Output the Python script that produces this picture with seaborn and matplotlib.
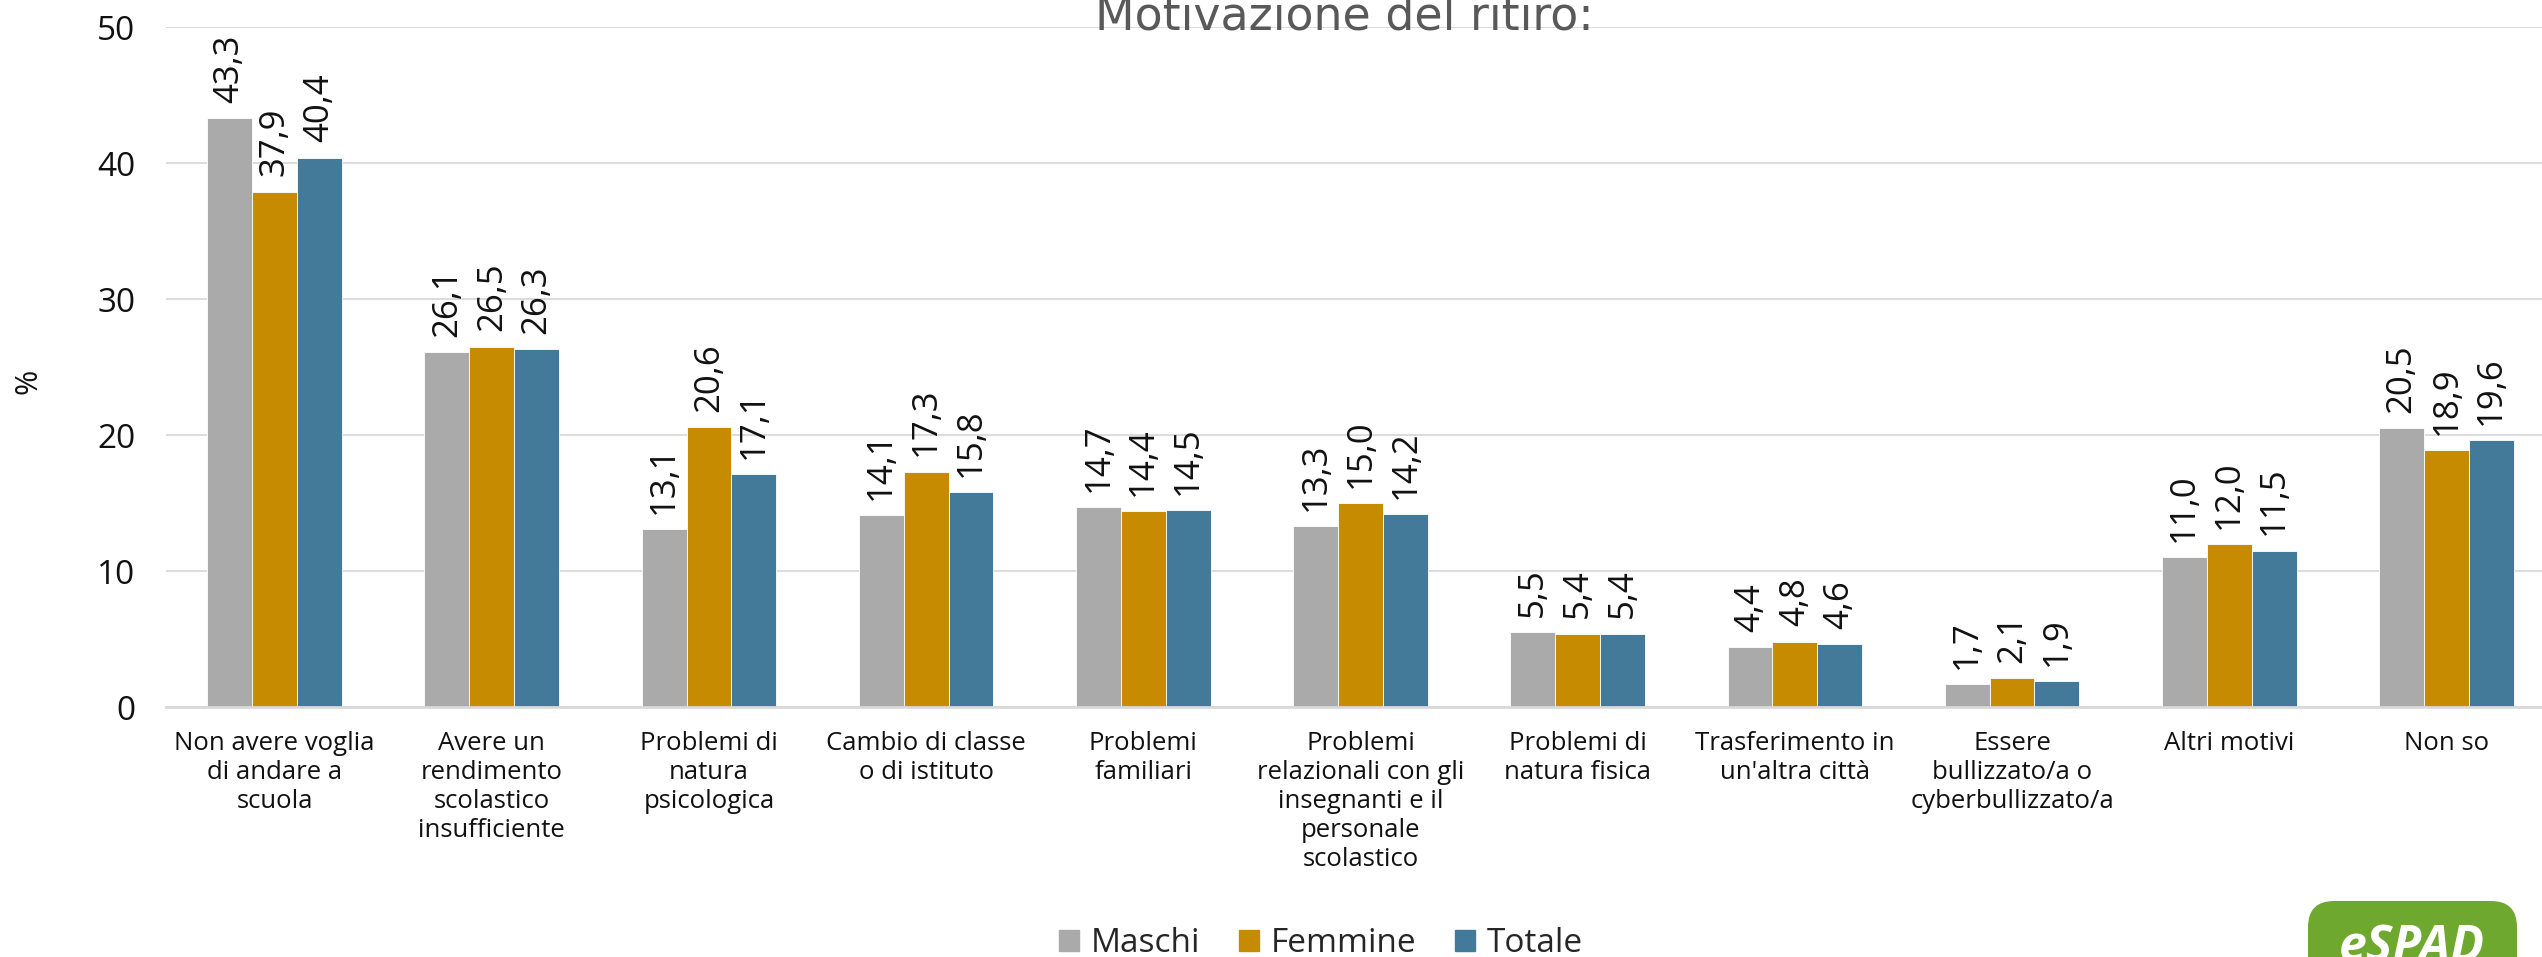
import pandas as pd
import numpy as np

import matplotlib.pyplot as plt
from matplotlib.patches import FancyBboxPatch
from matplotlib.transforms import IdentityTransform
import seaborn as sns

# ===== Data =====

categories = [
    'Non avere voglia\ndi andare a\nscuola',
    'Avere un\nrendimento\nscolastico\ninsufficiente',
    'Problemi di\nnatura\npsicologica',
    'Cambio di classe\no di istituto',
    'Problemi\nfamiliari',
    'Problemi\nrelazionali con gli\ninsegnanti e il\npersonale\nscolastico',
    'Problemi di\nnatura fisica',
    "Trasferimento in\nun'altra città",
    'Essere\nbullizzato/a o\ncyberbullizzato/a',
    'Altri motivi',
    'Non so',
]
maschi = [43.3, 26.1, 13.1, 14.1, 14.7, 13.3, 5.5, 4.4, 1.7, 11.0, 20.5]
femmine = [37.9, 26.5, 20.6, 17.3, 14.4, 15.0, 5.4, 4.8, 2.1, 12.0, 18.9]
totale = [40.4, 26.3, 17.1, 15.8, 14.5, 14.2, 5.4, 4.6, 1.9, 11.5, 19.6]
series = ['Maschi', 'Femmine', 'Totale']
y_ticks = [0, 10, 20, 30, 40, 50]

colors = {'Maschi': '#A9AAA9', 'Femmine': '#C78B00', 'Totale': '#447A99'}

df = pd.DataFrame({
    'motivo': categories * 3,
    'valore': maschi + femmine + totale,
    'sesso': np.repeat(series, len(categories)),
})

# ===== Style =====

sns.set_style('white')
plt.rcParams['font.family'] = ['Open Sans', 'DejaVu Sans']

W, H = 2542, 957
fig = plt.figure(figsize=(W / 100, H / 100), dpi=100)
ax = fig.add_axes([166 / W, 1 - 707 / H, (2555 - 166) / W, (707 - 27) / H])

sns.barplot(data=df, x='motivo', y='valore', hue='sesso', palette=colors,
            width=0.62, ax=ax, legend=False, saturation=1,
            edgecolor='white', linewidth=0.6)

for cont in ax.containers:
    ax.bar_label(cont, labels=[f'{v:.1f}'.replace('.', ',') for v in cont.datavalues],
                 rotation=90, padding=11, fontsize=25, color='#111111')

ax.set_ylim(0, 50)
ax.set_xlim(-0.5, 10.5)
ax.set_yticks(y_ticks)
ax.set_xlabel('')
ax.set_ylabel('')
ax.tick_params(axis='y', labelsize=24, length=0, pad=22, labelcolor='#111111')
ax.tick_params(axis='x', labelsize=18.5, length=0, pad=17, labelcolor='#111111')
for lab in ax.get_xticklabels():
    lab.set_linespacing(1.21)
ax.yaxis.grid(True, color='#D9D9D9', linewidth=1.3)
ax.set_axisbelow(True)
for s in ['top', 'right', 'left']:
    ax.spines[s].set_visible(False)
ax.spines['bottom'].set_color('#D9D9D9')
ax.spines['bottom'].set_linewidth(2)

# y label and title
fig.text(28 / W, 1 - 381 / H, '%', rotation=90, fontsize=22,
         ha='center', va='center', color='#111111')
fig.text(1344 / W, 1 - 30 / H, 'Motivazione del ritiro:', fontsize=33,
         family='DejaVu Sans', color='#595959', ha='center', va='baseline')

# legend
handles = [plt.Rectangle((0, 0), 1, 1, color=colors[s]) for s in series]
fig.legend(handles, series, loc='center', bbox_to_anchor=(1321 / W, 1 - 944 / H),
           ncol=3, frameon=False, fontsize=24, handlelength=0.6, handleheight=0.6,
           handletextpad=0.36, columnspacing=1.15)

# logo
logo = FancyBboxPatch((2308, -40), 209, 96, boxstyle='round,pad=0,rounding_size=26',
                      transform=IdentityTransform(), facecolor='#6FA82F',
                      edgecolor='none')
fig.patches.append(logo)
fig.text(2412 / W, 1 - 948 / H, 'eSPAD', fontsize=36, fontweight='bold',
         style='italic', color='white', ha='center', va='center')

fig.savefig('out.png', dpi=100)
